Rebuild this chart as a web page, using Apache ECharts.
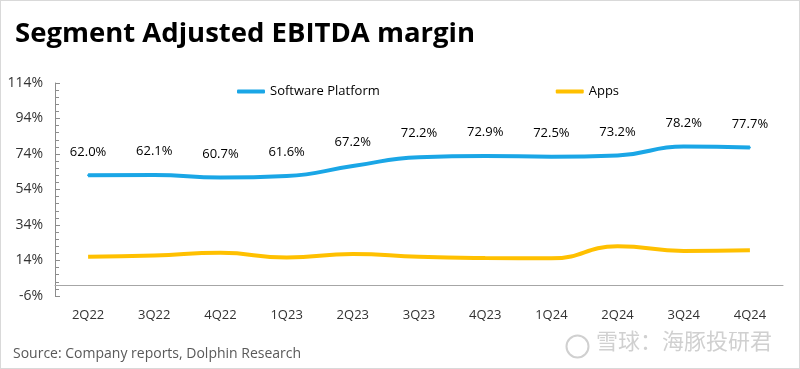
<!DOCTYPE html>
<html><head><meta charset="utf-8">
<script src="https://cdn.jsdelivr.net/npm/echarts@6/dist/echarts.min.js"></script>
<style>html,body{margin:0;padding:0;background:#fff}#c{width:798px;height:367px;border:1px solid #d9d9d9}</style>
</head><body><div id="c"></div>
<script>
const categories = ['2Q22','3Q22','4Q22','1Q23','2Q23','3Q23','4Q23','1Q24','2Q24','3Q24','4Q24'];
const softwarePlatform = [62.0,62.1,60.7,61.6,67.2,72.2,72.9,72.5,73.2,78.2,77.7];
const apps = [16.1,16.8,18.3,15.7,17.6,16.1,15.4,15.2,22.0,19.4,19.8];
const yTicks = {min:-6, max:114, interval:20};

const chart = echarts.init(document.getElementById('c'), null, {renderer:'canvas'});
chart.setOption({
  animation:false,
  textStyle:{fontFamily:'Open Sans, Noto Sans, sans-serif'},
  title:{text:'Segment Adjusted EBITDA margin', left:9, top:14,
    textStyle:{fontSize:27.5, fontWeight:'bold', color:'#000', fontFamily:'Open Sans'}},
  legend:{left:231, top:79, itemGap:176, itemWidth:28, itemHeight:4,
    textStyle:{fontSize:13, color:'#000'},
    data:[{name:'Software Platform', icon:'roundRect', itemStyle:{color:'#1AA6E6', opacity:1}},
          {name:'Apps', icon:'roundRect', itemStyle:{color:'#FFC000', opacity:1}}]},
  grid:{left:54, right:16, top:82, bottom:72, containLabel:false},
  xAxis:{type:'category', data:categories, boundaryGap:true,
    axisLine:{onZero:true, lineStyle:{color:'#a6a6a6', width:1}},
    axisTick:{show:false},
    axisLabel:{color:'#333', fontSize:13, margin:13}},
  yAxis:{type:'value', min:yTicks.min, max:yTicks.max, interval:yTicks.interval,
    axisLine:{show:true, lineStyle:{color:'#8c8c8c'}},
    axisTick:{show:true, inside:true, length:5, lineStyle:{color:'#8c8c8c'}},
    minorTick:{show:true, splitNumber:5, length:4, lineStyle:{color:'#8c8c8c'}},
    splitLine:{show:false},
    axisLabel:{color:'#333', fontSize:14, margin:12, formatter:v=>v+'%'}},
  series:[
    {name:'Software Platform', type:'line', smooth:true, data:softwarePlatform,
      showSymbol:true, symbol:'circle', symbolSize:2, lineStyle:{color:'#1AA6E6', width:4}, itemStyle:{color:'#1AA6E6'},
      label:{show:true, position:'top', distance:16, color:'#000', fontSize:13, formatter:p=>p.value.toFixed(1)+'%'},
      labelLayout:{hideOverlap:false}},
    {name:'Apps', type:'line', smooth:true, data:apps,
      showSymbol:false, symbol:'none', lineStyle:{color:'#FFC000', width:4}, itemStyle:{color:'#FFC000'}}
  ],
  graphic:[
    {type:'text', left:12, top:346, style:{text:'Source: Company reports, Dolphin Research', fill:'#595959', font:'14px "Open Sans"'}},
    {type:'text', left:595, top:329, style:{text:'雪球：海豚投研君', fill:'#d0d0d0', font:'22px "Noto Sans CJK SC"'}},
    {type:'circle', left:563, top:332, shape:{r:11}, style:{fill:'none', stroke:'#d0d0d0', lineWidth:2}}
  ]
});
</script></body></html>
